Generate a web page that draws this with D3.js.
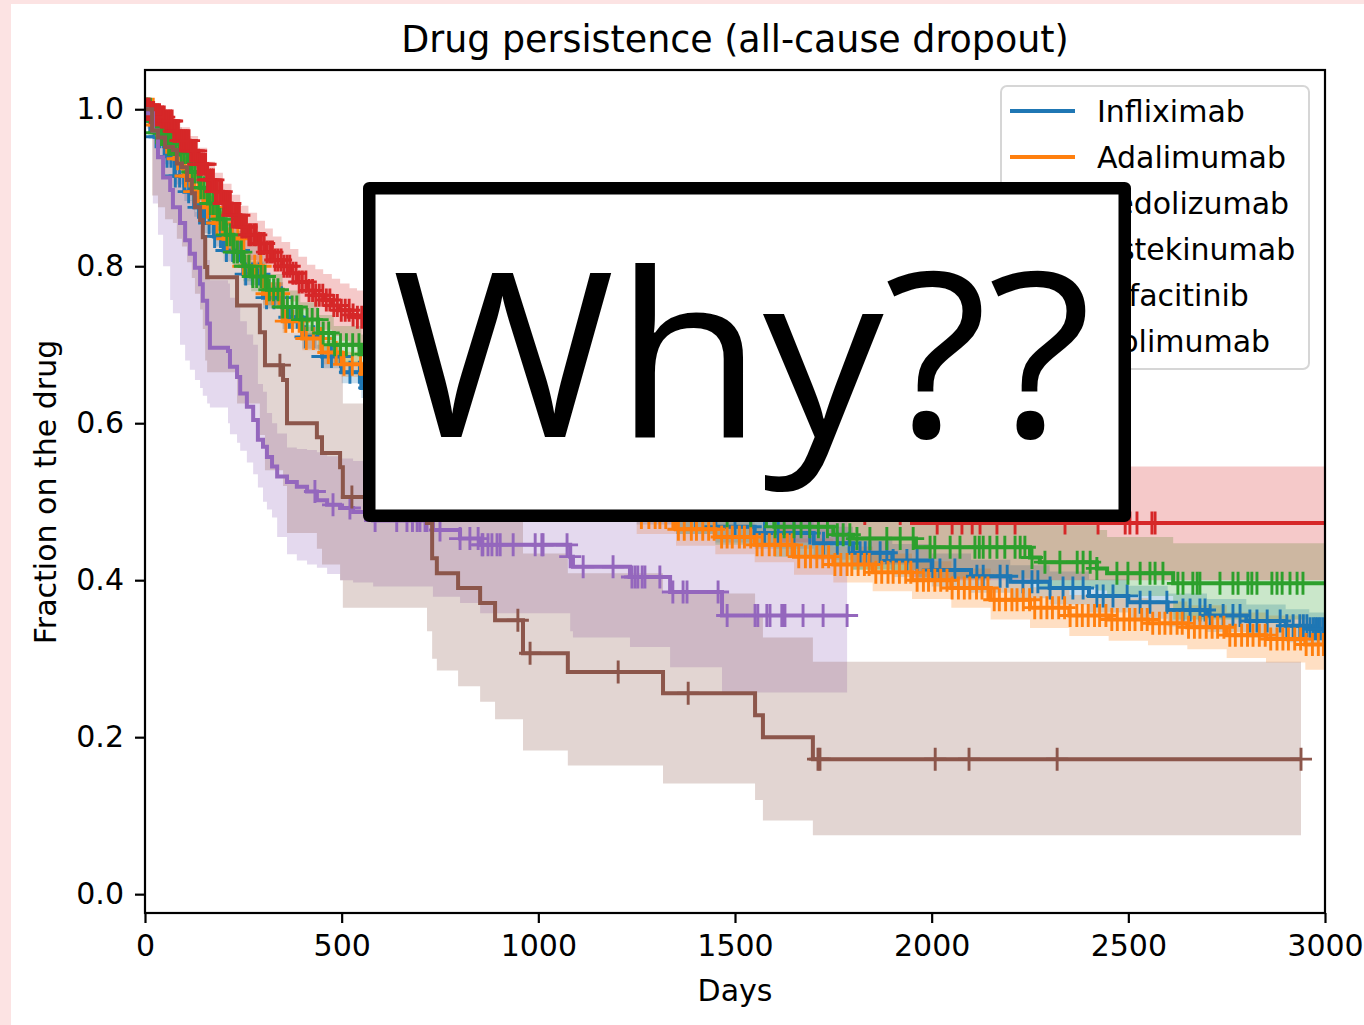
<!DOCTYPE html>
<html>
<head>
<meta charset="utf-8">
<script src="https://cdn.jsdelivr.net/npm/d3@7"></script>
<style>
  body { margin: 0; background: #fce3e3; }
  svg { display: block; }
</style>
</head>
<body>
<div id="chart"></div>
<script>
// ---- data ----
const drugs = ["Infliximab", "Adalimumab", "Vedolizumab", "Ustekinumab", "Tofacitinib", "Golimumab"];
const palette = ["#1f77b4", "#ff7f0e", "#2ca02c", "#d62728", "#9467bd", "#8c564b"];
const xTicks = [0, 500, 1000, 1500, 2000, 2500, 3000];
const yTicks = [0.0, 0.2, 0.4, 0.6, 0.8, 1.0];

// Infliximab
const inflixDays = [0, 10, 25, 50, 75, 100, 125, 150, 175, 200, 250, 300, 350, 400, 450, 500, 550, 650, 750, 850, 950, 1050, 1150, 1250, 1350, 1450, 1550, 1700, 1800, 1900, 2000, 2100, 2200, 2300, 2400, 2500, 2600, 2700, 2800, 2900, 2960];
const inflixSurv = [1.0, 0.985, 0.965, 0.94, 0.915, 0.895, 0.875, 0.855, 0.838, 0.82, 0.79, 0.76, 0.735, 0.71, 0.685, 0.665, 0.645, 0.615, 0.585, 0.56, 0.54, 0.52, 0.505, 0.49, 0.478, 0.468, 0.46, 0.447, 0.435, 0.425, 0.413, 0.405, 0.398, 0.39, 0.38, 0.372, 0.362, 0.355, 0.348, 0.342, 0.338];
const inflixLow = [1.0, 0.978, 0.956, 0.93, 0.904, 0.883, 0.863, 0.842, 0.825, 0.806, 0.776, 0.746, 0.72, 0.695, 0.67, 0.651, 0.632, 0.6, 0.57, 0.544, 0.523, 0.503, 0.487, 0.471, 0.459, 0.448, 0.44, 0.426, 0.414, 0.404, 0.392, 0.384, 0.377, 0.369, 0.359, 0.351, 0.341, 0.334, 0.327, 0.321, 0.317];
const inflixHigh = [1.0, 0.992, 0.974, 0.95, 0.926, 0.907, 0.887, 0.868, 0.851, 0.834, 0.804, 0.774, 0.75, 0.725, 0.70, 0.679, 0.658, 0.63, 0.60, 0.576, 0.557, 0.537, 0.523, 0.509, 0.497, 0.488, 0.48, 0.468, 0.456, 0.446, 0.434, 0.426, 0.419, 0.411, 0.401, 0.393, 0.383, 0.376, 0.369, 0.363, 0.359];
const inflixCensor = [5, 12, 20, 28, 37, 46, 56, 66, 77, 88, 99, 111, 123, 136, 149, 163, 177, 192, 207, 223, 239, 256, 273, 291, 309, 328, 347, 367, 387, 408, 429, 451, 474, 497, 521, 545, 570, 620, 680, 740, 800, 860, 920, 980, 1040, 1100, 1160, 1220, 1280, 1340, 1400, 1450, 1500, 1540, 1575, 1610, 1650, 1690, 1725, 1760, 1790,
  1818, 1831, 1843, 1869, 1886, 1902, 1937, 1963, 2003, 2021, 2059, 2115, 2131, 2174, 2192, 2232, 2255, 2270, 2301, 2334, 2359, 2385, 2420, 2436, 2461, 2497, 2530, 2555, 2598, 2639, 2657, 2682, 2695, 2708, 2741, 2766, 2784, 2809, 2827, 2853, 2886, 2903, 2919, 2936, 2945, 2954, 2962, 2970, 2976, 2982, 2988, 2995];

// Adalimumab
const adaDays = [0, 25, 50, 75, 100, 125, 150, 175, 200, 250, 300, 350, 400, 450, 500, 550, 650, 750, 850, 950, 1050, 1150, 1250, 1350, 1450, 1550, 1650, 1750, 1850, 1950, 2050, 2150, 2250, 2350, 2450, 2550, 2650, 2750, 2850, 2950];
const adaSurv = [1.0, 0.98, 0.958, 0.937, 0.915, 0.895, 0.875, 0.855, 0.835, 0.80, 0.765, 0.73, 0.708, 0.69, 0.675, 0.663, 0.625, 0.595, 0.565, 0.54, 0.52, 0.50, 0.48, 0.465, 0.455, 0.445, 0.43, 0.42, 0.41, 0.40, 0.39, 0.375, 0.365, 0.355, 0.35, 0.345, 0.34, 0.33, 0.325, 0.318];
const adaLow = [1.0, 0.972, 0.948, 0.926, 0.903, 0.883, 0.862, 0.842, 0.822, 0.786, 0.751, 0.715, 0.693, 0.675, 0.659, 0.647, 0.608, 0.577, 0.547, 0.521, 0.50, 0.48, 0.459, 0.444, 0.433, 0.423, 0.407, 0.397, 0.386, 0.376, 0.365, 0.35, 0.339, 0.329, 0.323, 0.317, 0.312, 0.301, 0.295, 0.286];
const adaHigh = [1.0, 0.988, 0.968, 0.948, 0.927, 0.907, 0.888, 0.868, 0.848, 0.814, 0.779, 0.745, 0.723, 0.705, 0.691, 0.679, 0.642, 0.613, 0.583, 0.559, 0.54, 0.52, 0.501, 0.486, 0.477, 0.467, 0.453, 0.443, 0.434, 0.424, 0.415, 0.40, 0.391, 0.381, 0.377, 0.373, 0.368, 0.359, 0.355, 0.35];
const adaCensor = [6, 13, 21, 29, 37, 46, 55, 64, 73, 83, 93, 103, 114, 125, 136, 147, 159, 171, 183, 196, 209, 222, 236, 250, 264, 279, 294, 309, 325, 341, 358, 375, 392, 410, 428, 447, 466, 486, 506, 527, 548, 570, 592, 615, 638, 662, 686, 711, 736, 762, 788, 815, 842, 870, 898, 927, 956, 986, 1016, 1047, 1078, 1110, 1142, 1175,
  1205, 1221, 1236, 1248, 1262, 1281, 1297, 1309, 1324, 1342, 1356, 1371, 1389, 1402, 1418, 1433, 1447, 1466, 1480, 1493, 1511, 1524, 1540, 1556, 1569, 1587, 1601, 1616, 1633, 1645, 1662, 1679, 1692, 1708, 1723, 1738, 1754, 1769, 1785, 1797, 1813, 1829, 1841, 1858, 1873, 1889, 1902, 1918, 1934, 1947, 1963, 1979, 1992, 2008, 2023, 2039, 2052, 2068, 2083, 2097, 2114, 2128, 2143, 2159, 2172, 2188, 2204, 2217, 2233, 2249, 2262, 2278, 2293, 2307, 2323, 2338, 2352, 2369, 2383, 2398, 2414, 2427, 2443, 2458, 2472, 2489, 2503, 2517, 2534, 2548, 2562, 2579, 2593, 2608, 2624, 2637, 2653, 2668, 2682, 2698, 2713, 2727, 2743, 2758, 2772, 2788, 2803, 2817, 2833, 2848, 2862, 2878, 2893, 2907, 2923, 2938, 2952, 2968, 2983, 2996];

// Vedolizumab
const vedoDays = [0, 15, 30, 60, 90, 115, 140, 160, 185, 205, 225, 250, 270, 310, 350, 395, 440, 480, 550, 650, 750, 850, 950, 1050, 1150, 1250, 1350, 1450, 1600, 1750, 1800, 1960, 2250, 2275, 2420, 2446, 2614];
const vedoSurv = [1.0, 0.985, 0.97, 0.955, 0.945, 0.92, 0.90, 0.88, 0.86, 0.84, 0.818, 0.80, 0.787, 0.77, 0.748, 0.732, 0.715, 0.70, 0.688, 0.655, 0.625, 0.60, 0.575, 0.55, 0.53, 0.51, 0.495, 0.482, 0.468, 0.458, 0.453, 0.442, 0.429, 0.423, 0.415, 0.409, 0.396];
const vedoLow = [1.0, 0.977, 0.959, 0.943, 0.932, 0.906, 0.885, 0.864, 0.843, 0.823, 0.80, 0.781, 0.768, 0.75, 0.727, 0.71, 0.692, 0.676, 0.663, 0.628, 0.597, 0.57, 0.544, 0.517, 0.496, 0.475, 0.459, 0.445, 0.43, 0.419, 0.413, 0.402, 0.395, 0.39, 0.387, 0.38, 0.35];
const vedoHigh = [1.0, 0.993, 0.981, 0.967, 0.958, 0.934, 0.915, 0.896, 0.877, 0.857, 0.836, 0.819, 0.806, 0.79, 0.769, 0.754, 0.738, 0.724, 0.713, 0.682, 0.653, 0.63, 0.606, 0.583, 0.564, 0.545, 0.531, 0.519, 0.506, 0.497, 0.483, 0.474, 0.474, 0.47, 0.464, 0.455, 0.447];
const vedoCensor = [4, 9, 14, 19, 25, 30, 36, 42, 48, 54, 60, 66, 73, 79, 86, 92, 99, 106, 113, 120, 127, 135, 142, 150, 158, 166, 174, 182, 191, 199, 208, 217, 226, 235, 245, 254, 264, 274, 284, 295, 305, 316, 327, 338, 350, 362, 374, 386, 399, 412, 425, 439, 453, 467, 482, 497, 512, 528, 544, 560, 600, 650, 700, 760, 820, 880, 940, 1000, 1060, 1120, 1180, 1240, 1300, 1360, 1420, 1480, 1540,
  1580, 1602, 1625, 1650, 1668, 1690, 1712, 1735, 1760, 1775, 1792, 1810, 1843, 1886, 1920, 1953, 1996, 2008, 2047, 2072, 2110, 2121, 2131, 2148, 2166, 2186, 2212, 2225, 2237, 2255, 2288, 2326, 2370, 2385, 2403, 2420, 2471, 2499, 2530, 2555, 2568, 2588, 2626, 2639, 2664, 2675, 2682, 2733, 2766, 2779, 2804, 2814, 2827, 2865, 2878, 2891, 2911, 2929, 2944];

// Ustekinumab
const ustekDays = [0, 12, 25, 38, 50, 71, 90, 114, 135, 158, 178, 198, 220, 242, 263, 285, 305, 325, 347, 369, 390, 412, 433, 453, 475, 496, 520, 539, 560, 650, 800, 1000, 1200, 1400, 1600, 1800, 1950];
const ustekSurv = [1.0, 0.996, 0.993, 0.99, 0.985, 0.972, 0.96, 0.947, 0.93, 0.91, 0.895, 0.88, 0.865, 0.85, 0.84, 0.829, 0.818, 0.808, 0.80, 0.791, 0.78, 0.769, 0.763, 0.757, 0.75, 0.744, 0.738, 0.735, 0.727, 0.70, 0.66, 0.61, 0.57, 0.535, 0.505, 0.485, 0.473];
const ustekLow = [1.0, 0.988, 0.982, 0.977, 0.97, 0.955, 0.94, 0.925, 0.906, 0.884, 0.867, 0.851, 0.835, 0.819, 0.808, 0.796, 0.784, 0.774, 0.765, 0.755, 0.744, 0.731, 0.725, 0.719, 0.711, 0.705, 0.699, 0.695, 0.687, 0.658, 0.615, 0.562, 0.52, 0.482, 0.448, 0.42, 0.40];
const ustekHigh = [1.0, 1.0, 1.0, 1.0, 0.997, 0.986, 0.977, 0.966, 0.951, 0.933, 0.919, 0.905, 0.891, 0.877, 0.868, 0.858, 0.848, 0.838, 0.831, 0.822, 0.812, 0.802, 0.796, 0.79, 0.784, 0.778, 0.772, 0.769, 0.762, 0.737, 0.70, 0.652, 0.614, 0.58, 0.553, 0.546, 0.545];
const ustekCensor = [3, 7, 11, 14, 18, 22, 26, 29, 33, 37, 41, 45, 49, 53, 57, 61, 65, 69, 73, 77, 81, 85, 90, 94, 98, 103, 107, 112, 116, 121, 125, 130, 135, 139, 144, 149, 154, 159, 164, 169, 174, 179, 184, 190, 195, 200, 206, 211, 217, 222, 228, 234, 240, 246, 252, 258, 264, 270, 277, 283, 290, 296, 303, 310, 317, 324, 331, 338, 346, 353, 361, 368, 376, 384, 392, 400, 409, 417, 426, 434, 443, 452, 461, 470, 480, 489, 499, 509, 519, 529, 540, 551,
  600, 680, 760, 850, 940, 1030, 1130, 1240, 1350, 1470, 1590, 1710, 1830, 1920, 2014, 2052, 2077, 2103, 2123, 2166, 2212, 2339, 2423, 2492, 2504, 2522, 2560, 2568];

// Tofacitinib
const tofaDays = [0, 5, 20, 33, 46, 64, 71, 89, 102, 114, 127, 140, 147, 158, 165, 211, 216, 234, 242, 259, 275, 287, 300, 310, 323, 336, 361, 386, 412, 437, 463, 496, 529, 580, 732, 801, 852, 1081, 1088, 1233, 1335, 1467];
const tofaSurv = [1.0, 0.995, 0.973, 0.939, 0.913, 0.897, 0.875, 0.855, 0.833, 0.816, 0.798, 0.777, 0.756, 0.727, 0.696, 0.692, 0.672, 0.659, 0.638, 0.621, 0.604, 0.579, 0.570, 0.557, 0.545, 0.532, 0.525, 0.519, 0.513, 0.502, 0.496, 0.492, 0.487, 0.476, 0.464, 0.453, 0.445, 0.43, 0.417, 0.404, 0.385, 0.355];
const tofaLow = [1.0, 0.975, 0.88, 0.84, 0.80, 0.757, 0.74, 0.70, 0.68, 0.668, 0.655, 0.645, 0.635, 0.625, 0.62, 0.60, 0.586, 0.575, 0.565, 0.55, 0.535, 0.518, 0.50, 0.49, 0.48, 0.455, 0.433, 0.425, 0.42, 0.416, 0.408, 0.40, 0.397, 0.392, 0.379, 0.371, 0.358, 0.335, 0.327, 0.315, 0.289, 0.257];
const tofaHigh = [1.0, 1.0, 0.995, 0.978, 0.962, 0.95, 0.933, 0.917, 0.899, 0.884, 0.869, 0.852, 0.834, 0.808, 0.782, 0.778, 0.76, 0.748, 0.73, 0.713, 0.70, 0.65, 0.64, 0.613, 0.60, 0.587, 0.569, 0.567, 0.566, 0.563, 0.558, 0.555, 0.552, 0.545, 0.538, 0.53, 0.525, 0.515, 0.505, 0.495, 0.488, 0.482];
const tofaCensor = [432, 478, 521, 585, 640, 666, 680, 692, 699, 712, 717, 750, 801, 826, 847, 857, 859, 872, 882, 895, 903, 936, 992, 1009, 1012, 1073, 1081, 1114, 1190, 1238, 1246, 1253, 1264, 1271, 1309, 1342, 1368, 1378, 1457, 1480, 1551, 1558, 1581, 1589, 1619, 1622, 1627, 1673, 1724, 1785];

// Golimumab
const goliDays = [0, 18, 33, 51, 71, 81, 94, 107, 119, 127, 140, 147, 153, 158, 234, 292, 305, 351, 361, 437, 450, 496, 503, 717, 730, 742, 796, 852, 890, 961, 1075, 1317, 1551, 1571, 1698];
const goliSurv = [1.0, 0.973, 0.964, 0.952, 0.948, 0.931, 0.926, 0.910, 0.893, 0.875, 0.859, 0.837, 0.799, 0.786, 0.750, 0.716, 0.674, 0.655, 0.600, 0.582, 0.562, 0.544, 0.506, 0.473, 0.428, 0.409, 0.390, 0.371, 0.349, 0.307, 0.283, 0.256, 0.228, 0.200, 0.172];
const goliLow = [1.0, 0.89, 0.875, 0.86, 0.855, 0.835, 0.825, 0.805, 0.785, 0.765, 0.745, 0.72, 0.68, 0.665, 0.625, 0.585, 0.54, 0.52, 0.46, 0.44, 0.42, 0.40, 0.365, 0.335, 0.30, 0.285, 0.265, 0.245, 0.223, 0.183, 0.164, 0.141, 0.12, 0.094, 0.075];
const goliHigh = [1.0, 1.0, 0.997, 0.99, 0.987, 0.977, 0.972, 0.962, 0.95, 0.937, 0.926, 0.91, 0.88, 0.87, 0.845, 0.815, 0.78, 0.765, 0.715, 0.70, 0.683, 0.667, 0.625, 0.59, 0.55, 0.535, 0.515, 0.50, 0.476, 0.434, 0.409, 0.383, 0.355, 0.327, 0.296];
const goliCensor = [343, 526, 948, 979, 1203, 1381, 1711, 1716, 2009, 2095, 2319, 2939];

const lastDay = [3000, 3000, 3000, 3000, 1785, 2939];

// ---- chart ----
const W = 1364, H = 1025;
const svg = d3.select("#chart").append("svg")
    .attr("width", W)
    .attr("height", H);

// pink frame with white canvas
svg.append("rect").attr("width", W).attr("height", H).attr("fill", "#fce3e3");
svg.append("rect").attr("x", 11).attr("y", 4).attr("width", W - 11).attr("height", H - 4).attr("fill", "#fff");

const x = d3.scaleLinear().domain([0, 3000]).range([145, 1325]);
const y = d3.scaleLinear().domain([-0.024, 1.05]).range([913, 70]);

svg.append("clipPath").attr("id", "plotclip")
  .append("rect")
    .attr("x", 145).attr("y", 70)
    .attr("width", 1180).attr("height", 843);

const series = [
  { days: inflixDays, surv: inflixSurv, low: inflixLow, high: inflixHigh, censor: inflixCensor },
  { days: adaDays, surv: adaSurv, low: adaLow, high: adaHigh, censor: adaCensor },
  { days: vedoDays, surv: vedoSurv, low: vedoLow, high: vedoHigh, censor: vedoCensor },
  { days: ustekDays, surv: ustekSurv, low: ustekLow, high: ustekHigh, censor: ustekCensor },
  { days: tofaDays, surv: tofaSurv, low: tofaLow, high: tofaHigh, censor: tofaCensor },
  { days: goliDays, surv: goliSurv, low: goliLow, high: goliHigh, censor: goliCensor }
].map((s, i) => Object.assign(s, { name: drugs[i], color: palette[i], end: lastDay[i] }));

const plot = svg.append("g").attr("clip-path", "url(#plotclip)");

// confidence bands first (they sit under every line)
const band = d3.area()
    .curve(d3.curveStepAfter)
    .x(d => x(d.t))
    .y0(d => y(d.lo))
    .y1(d => y(d.hi));

series.forEach(s => {
  const pts = s.days.map((t, i) => ({ t: t, lo: s.low[i], hi: s.high[i] }));
  const n = s.days.length - 1;
  pts.push({ t: s.end, lo: s.low[n], hi: s.high[n] });
  plot.append("path")
    .datum(pts)
    .attr("fill", s.color)
    .attr("fill-opacity", 0.25)
    .attr("d", band);
});

// survival lines and censor ticks
const step = d3.line()
    .curve(d3.curveStepAfter)
    .x(d => x(d.t))
    .y(d => y(d.v));

function survAt(s, t) {
  const i = d3.bisectRight(s.days, t) - 1;
  return s.surv[Math.max(0, i)];
}

series.forEach(s => {
  const pts = s.days.map((t, i) => ({ t: t, v: s.surv[i] }));
  pts.push({ t: s.end, v: s.surv[s.surv.length - 1] });
  plot.append("path")
    .datum(pts)
    .attr("fill", "none")
    .attr("stroke", s.color)
    .attr("stroke-width", 4)
    .attr("d", step);

  plot.append("g")
    .selectAll("path")
    .data(s.censor)
    .enter().append("path")
      .attr("d", t => {
        const cx = x(t), cy = y(survAt(s, t));
        return `M${cx - 11},${cy}H${cx + 11}M${cx},${cy - 11.5}V${cy + 11.5}`;
      })
      .attr("stroke", s.color)
      .attr("stroke-width", 2.9)
      .attr("fill", "none");
});

// axes
const font = "DejaVu Sans";
svg.append("g")
    .attr("transform", "translate(0,913)")
    .call(d3.axisBottom(x).tickValues(xTicks).tickSize(10).tickSizeOuter(0).tickPadding(12).tickFormat(d3.format("d")))
    .call(g => g.select(".domain").remove())
    .call(g => g.selectAll(".tick line").attr("stroke", "#000").attr("stroke-width", 2.2))
    .call(g => g.selectAll(".tick text").attr("fill", "#000").attr("font-size", 30).attr("font-family", font));

svg.append("g")
    .attr("transform", "translate(145,0)")
    .call(d3.axisLeft(y).tickValues(yTicks).tickSize(10).tickSizeOuter(0).tickPadding(11).tickFormat(d3.format(".1f")))
    .call(g => g.select(".domain").remove())
    .call(g => g.selectAll(".tick line").attr("stroke", "#000").attr("stroke-width", 2.2))
    .call(g => g.selectAll(".tick text").attr("fill", "#000").attr("font-size", 30).attr("font-family", font));

// frame
svg.append("rect")
    .attr("x", 145).attr("y", 70)
    .attr("width", 1180).attr("height", 843)
    .attr("fill", "none")
    .attr("stroke", "#000")
    .attr("stroke-width", 2.2);

// title and axis labels
svg.append("text")
    .attr("x", 735).attr("y", 52)
    .attr("text-anchor", "middle")
    .attr("font-family", font).attr("font-size", 36.4)
    .text("Drug persistence (all-cause dropout)");

svg.append("text")
    .attr("x", 735).attr("y", 1001)
    .attr("text-anchor", "middle")
    .attr("font-family", font).attr("font-size", 30)
    .text("Days");

svg.append("text")
    .attr("transform", "translate(56,492) rotate(-90)")
    .attr("text-anchor", "middle")
    .attr("font-family", font).attr("font-size", 30)
    .text("Fraction on the drug");

// legend
const legend = svg.append("g");
legend.append("rect")
    .attr("x", 1001).attr("y", 86)
    .attr("width", 308).attr("height", 283)
    .attr("rx", 6)
    .attr("fill", "#fff").attr("fill-opacity", 0.8)
    .attr("stroke", "#d6d6d6").attr("stroke-width", 2);

const entry = legend.selectAll(".entry")
  .data(series)
  .enter().append("g")
    .attr("class", "entry")
    .attr("transform", (d, i) => `translate(0,${111 + i * 46})`);

entry.append("line")
    .attr("x1", 1010).attr("x2", 1075)
    .attr("stroke", d => d.color)
    .attr("stroke-width", 4);

entry.append("text")
    .attr("x", 1097)
    .attr("dy", "0.36em")
    .attr("font-family", font).attr("font-size", 30)
    .text(d => d.name);

// the "Why??" sticker on top
svg.append("rect")
    .attr("x", 369.25).attr("y", 188.25)
    .attr("width", 755.5).attr("height", 327.5)
    .attr("fill", "#fff")
    .attr("stroke", "#000")
    .attr("stroke-width", 12.5)
    .attr("stroke-linejoin", "round");

svg.append("text")
    .attr("x", 392).attr("y", 437)
    .attr("font-family", "Open Sans")
    .attr("font-size", 230)
    .attr("textLength", 700)
    .attr("lengthAdjust", "spacingAndGlyphs")
    .text("Why??");
</script>
</body>
</html>
